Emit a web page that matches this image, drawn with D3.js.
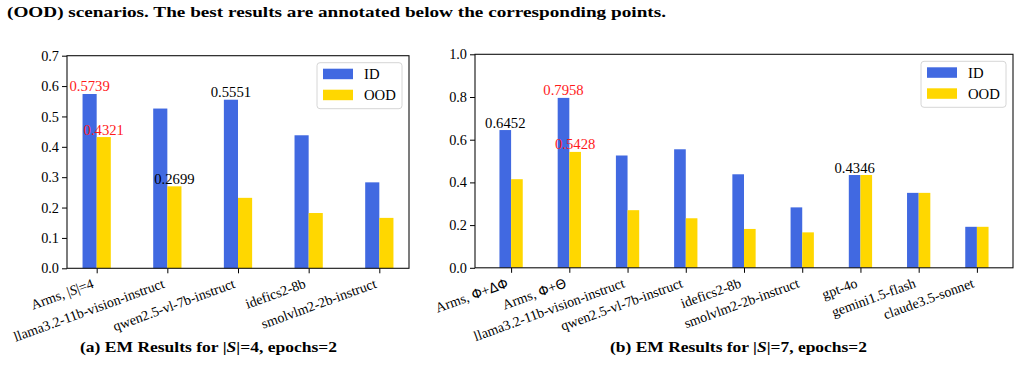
<!DOCTYPE html>
<html>
<head>
<meta charset="utf-8">
<script src="https://d3js.org/d3.v7.min.js"></script>
<style>
  body { margin: 0; background: #fff; }
  svg, svg text, svg tspan { font-family: "Liberation Serif", Tinos, "Times New Roman", Times, serif; }
  svg text { fill: #000; }
</style>
</head>
<body>
<svg id="fig" width="1022" height="380"></svg>
<script>
// ---- data ----
var seriesNames = ["ID", "OOD"];
var seriesColors = ["#4169e1", "#ffd700"];

var leftCats = ["Arms, |S|=4", "llama3.2-11b-vision-instruct", "qwen2.5-vl-7b-instruct",
                "idefics2-8b", "smolvlm2-2b-instruct"];
var leftID  = [0.5739, 0.5260, 0.5551, 0.4380, 0.2830];
var leftOOD = [0.4321, 0.2699, 0.2320, 0.1820, 0.1660];
var leftRed   = [[0, 0], [0, 1]];   // [category, series] best results
var leftBlack = [[2, 0], [1, 1]];
var leftTicks = [0, 0.1, 0.2, 0.3, 0.4, 0.5, 0.6, 0.7];

var rightCats = ["Arms, Φ+ΔΦ", "Arms, Φ+Θ", "llama3.2-11b-vision-instruct", "qwen2.5-vl-7b-instruct",
                 "idefics2-8b", "smolvlm2-2b-instruct", "gpt-4o", "gemini1.5-flash", "claude3.5-sonnet"];
var rightID  = [0.6452, 0.7958, 0.5260, 0.5551, 0.4380, 0.2830, 0.4346, 0.3510, 0.1920];
var rightOOD = [0.4150, 0.5428, 0.2699, 0.2320, 0.1820, 0.1660, 0.4346, 0.3510, 0.1920];
var rightRed   = [[1, 0], [1, 1]];
var rightBlack = [[0, 0], [6, 0]];
var rightTicks = [0, 0.2, 0.4, 0.6, 0.8, 1.0];

var serif = '"Liberation Serif", Tinos, "Times New Roman", Times, serif';
var svg = d3.select("#fig").attr("font-family", serif);

// text with |S| in italics and greek letters in a sans face (like mathtext)
function richText(sel, label, size) {
  label.split(/(\|S\||[ΦΔΘ])/).filter(function(s) { return s.length; }).forEach(function(p) {
    if (p === "|S|") {
      sel.append("tspan").text("|");
      sel.append("tspan").style("font-style", "italic").text("S");
      sel.append("tspan").text("|");
    } else if (/[ΦΔΘ]/.test(p)) {
      sel.append("tspan").style("font-family", "DejaVu Sans").style("font-size", (size * 0.95) + "px").text(p);
    } else {
      sel.append("tspan").text(p);
    }
  });
}

function drawPanel(cats, vals, red, black, ticks, box) {
  var n = cats.length;
  var span = (n - 1) + 0.4;
  var x = d3.scaleLinear()
      .domain([-0.2 - 0.05 * span, n - 1 + 0.2 + 0.05 * span])
      .range([box.left, box.right]);
  var y = d3.scaleLinear()
      .domain([0, ticks[ticks.length - 1]])
      .range([box.bottom, box.top]);
  var g = svg.append("g");

  // bars
  vals.forEach(function(series, s) {
    g.selectAll(".bar" + s)
      .data(series)
      .enter()
      .append("rect")
      .attr("x", function(d, i) { return x(i - 0.2 + 0.2 * s); })
      .attr("width", x(0.2) - x(0))
      .attr("y", function(d) { return y(d); })
      .attr("height", function(d) { return y(0) - y(d); })
      .attr("fill", seriesColors[s]);
  });

  // y axis
  var ya = g.append("g")
      .attr("transform", "translate(" + box.left + ",0)")
      .call(d3.axisLeft(y).tickValues(ticks).tickFormat(d3.format(".1f")).tickSize(5).tickPadding(3));
  ya.attr("font-family", serif).attr("font-size", null);
  ya.select(".domain").remove();
  ya.selectAll("text").style("font-family", serif).style("font-size", "14.3px");

  // x axis ticks
  var xa = g.append("g")
      .attr("transform", "translate(0," + box.bottom + ")")
      .call(d3.axisBottom(x).tickValues(d3.range(n)).tickFormat("").tickSize(5));
  xa.select(".domain").remove();

  // rotated category labels
  cats.forEach(function(c, i) {
    var t = g.append("text")
      .attr("text-anchor", "end")
      .attr("transform", "translate(" + (x(i) - 2) + "," + (box.bottom + 19) + ")rotate(-20)")
      .style("font-family", serif)
      .style("font-size", "14px");
    richText(t, c, 14);
  });

  // frame
  g.append("rect")
    .attr("x", box.left).attr("y", box.top)
    .attr("width", box.right - box.left).attr("height", box.bottom - box.top)
    .attr("fill", "none").attr("stroke", "#111").attr("stroke-width", 1.1);

  // annotations
  function note(list, color) {
    list.forEach(function(p) {
      var v = vals[p[1]][p[0]];
      g.append("text")
        .attr("x", x(p[0] - 0.1 + 0.2 * p[1]))
        .attr("y", y(v) - 2.5)
        .attr("text-anchor", "middle")
        .style("font-family", serif)
        .style("font-size", "14.7px")
        .style("fill", color)
        .text(d3.format(".4f")(v));
    });
  }
  note(black, "#000");
  note(red, "#ff1a1a");

  // legend
  var lx = box.right - 92, ly = box.top + 7;
  g.append("rect")
    .attr("x", lx).attr("y", ly).attr("width", 85).attr("height", 46)
    .attr("rx", 3).attr("fill", "#fff").attr("fill-opacity", 0.8)
    .attr("stroke", "#d6d6d6").attr("stroke-width", 1);
  seriesNames.forEach(function(name, s) {
    g.append("rect")
      .attr("x", lx + 6).attr("y", ly + 6 + s * 21)
      .attr("width", 30).attr("height", 10.5)
      .attr("fill", seriesColors[s]);
    g.append("text")
      .attr("x", lx + 47).attr("y", ly + 16.5 + s * 21)
      .style("font-family", serif)
      .style("font-size", "14.7px")
      .text(name);
  });
}

drawPanel(leftCats, [leftID, leftOOD], leftRed, leftBlack, leftTicks,
          {left: 67, right: 409, top: 55.7, bottom: 268.3});
drawPanel(rightCats, [rightID, rightOOD], rightRed, rightBlack, rightTicks,
          {left: 475, right: 1013, top: 54.3, bottom: 267.8});

// caption text
svg.append("text")
  .attr("x", 7).attr("y", 17)
  .attr("textLength", 659).attr("lengthAdjust", "spacingAndGlyphs")
  .style("font-family", serif)
  .style("font-size", "14.5px").style("font-weight", "bold")
  .text("(OOD) scenarios. The best results are annotated below the corresponding points.");

[["(a) EM Results for |S|=4, epochs=2", 80], ["(b) EM Results for |S|=7, epochs=2", 610]].forEach(function(c) {
  var t = svg.append("text")
    .attr("x", c[1]).attr("y", 352)
    .attr("textLength", 257).attr("lengthAdjust", "spacingAndGlyphs")
    .style("font-family", serif)
    .style("font-size", "14px").style("font-weight", "bold");
  richText(t, c[0], 14);
});
</script>
</body>
</html>
